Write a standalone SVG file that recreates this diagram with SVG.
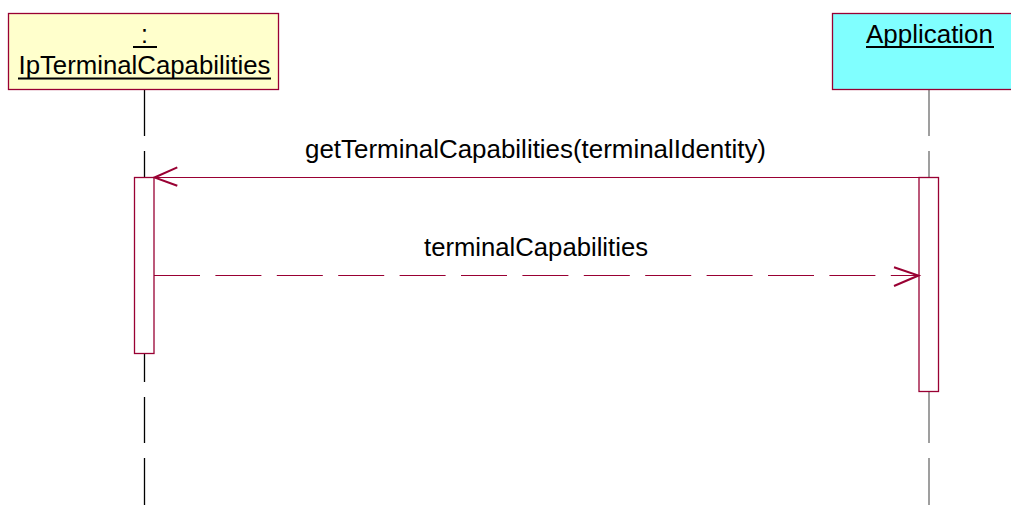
<svg xmlns="http://www.w3.org/2000/svg" width="1011" height="514" viewBox="0 0 1011 514">
<style>
.lbl{font-family:"Liberation Sans",Arial,sans-serif;font-size:25px;fill:#000}
.box{stroke:#990033;stroke-width:1.3}
.act{fill:#fff;stroke:#990033;stroke-width:1.3}
.msg{stroke:#990033;stroke-width:1.2;fill:none}
.head{stroke:#990033;stroke-width:2;fill:none}
.ul{stroke:#000;stroke-width:2}
</style>
<rect width="1011" height="514" fill="#fff"/>
<g id="lifelines">
<path d="M144.5 89V136M144.5 151V177M144.5 353V382M144.5 397V443M144.5 458V505" stroke="#000" stroke-width="1.3"/>
<path d="M929 89V136M929 151V177M929 392V443M929 458V505" stroke="#808080" stroke-width="1.5"/>
</g>
<g id="node-ipterminal">
<rect x="8.5" y="13.5" width="270" height="76" fill="#FFFFCC" class="box"/>
<text x="144.5" y="43" text-anchor="middle" class="lbl">:</text>
<line x1="133" y1="47" x2="157" y2="47" class="ul"/>
<text x="144.5" y="74" text-anchor="middle" class="lbl" textLength="252" lengthAdjust="spacingAndGlyphs">IpTerminalCapabilities</text>
<line x1="18" y1="78.5" x2="271" y2="78.5" class="ul"/>
</g>
<g id="node-application">
<rect x="832.5" y="13.5" width="190" height="76" fill="#80FFFF" class="box"/>
<text x="929.5" y="43" text-anchor="middle" class="lbl" textLength="127" lengthAdjust="spacingAndGlyphs">Application</text>
<line x1="866" y1="47" x2="994" y2="47" class="ul"/>
</g>
<g id="activations">
<rect x="134.5" y="177.5" width="19.5" height="176" class="act"/>
<rect x="919" y="177.5" width="19.5" height="214" class="act"/>
</g>
<g id="connectors">
<line x1="919" y1="177.5" x2="154" y2="177.5" class="msg"/>
<polyline points="177.3,167.3 154.5,177.5 177.3,185.7" class="head"/>
<text x="535.5" y="158" text-anchor="middle" class="lbl" textLength="461" lengthAdjust="spacingAndGlyphs">getTerminalCapabilities(terminalIdentity)</text>
<line x1="154" y1="275.5" x2="918" y2="275.5" class="msg" stroke-dasharray="46 15.4"/>
<polyline points="894,267.3 918.5,275.5 894,286" class="head"/>
<text x="536" y="256" text-anchor="middle" class="lbl" textLength="224" lengthAdjust="spacingAndGlyphs">terminalCapabilities</text>
</g>
</svg>
